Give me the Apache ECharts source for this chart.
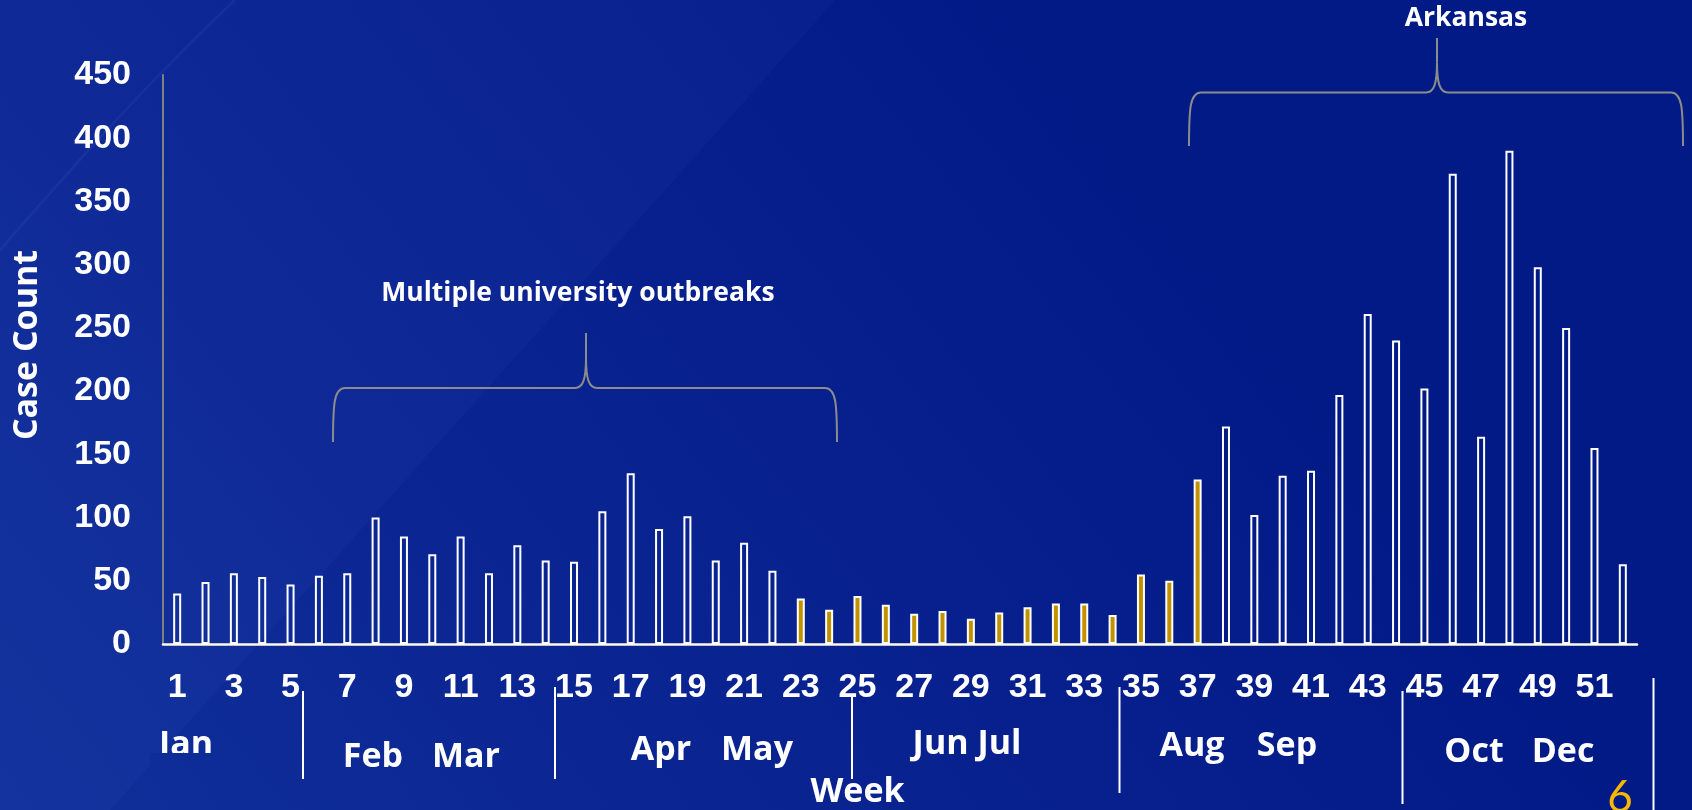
<!DOCTYPE html>
<html>
<head>
<meta charset="utf-8">
<script src="https://cdn.jsdelivr.net/npm/echarts@6/dist/echarts.min.js"></script>
<style>
html,body{margin:0;padding:0;background:#06208e;overflow:hidden;}
#chart{width:1692px;height:810px;}
</style>
</head>
<body>
<div id="chart"></div>
<script>
// ---- data ----
const weeks = [1,2,3,4,5,6,7,8,9,10,11,12,13,14,15,16,17,18,19,20,21,22,23,24,25,26,
               27,28,29,30,31,32,33,34,35,36,37,38,39,40,41,42,43,44,45,46,47,48,49,50,51,52];
const caseCounts = [40,49,56,53,47,54,56,100,85,71,85,56,78,66,65,105,135,91,101,66,80,58,
                    36,27,38,31,24,26,20,25,29,32,32,23,55,50,130,
                    172,102,133,137,197,261,240,202,372,164,390,298,250,155,63];
const goldWeeks = [23,24,25,26,27,28,29,30,31,32,33,34,35,36,37];
const monthLabels = ['Jan','Feb','Mar','Apr','May','Jun Jul','Aug','Sep','Oct','Dec'];
const annotationLabels = ['Multiple university outbreaks','Arkansas'];
const axisTitles = {x:'Week', y:'Case Count'};
const slideNumber = '6';

// ---- layout (pixels) ----
const monthPos = [[186,745],[373,757],[466,757],[661,750],[757,750],[967,744],[1192,746],[1287,746],[1474,752],[1563,752]];
const separatorLines = [[303,691,779],[555,687,779],[852,695,779],[1119.5,687,793],[1402.5,691,804],[1653.5,678,812]];
const braces = [
  {xl:333, xr:837, xm:586, yTip:442, yH:388, yTop:333},
  {xl:1189, xr:1683, xm:1437, yTip:146, yH:92.5, yTop:38}
];

const bgGradient = () => new echarts.graphic.LinearGradient(0, 810, 1000, 0, [
  {offset:0, color:'#103099'},
  {offset:0.45, color:'#0a2492'},
  {offset:1, color:'#021a86'}
], true);

const bold = "'Open Sans', 'DejaVu Sans', sans-serif";
const arialB = "'Liberation Sans', Arial, sans-serif";

const graphics = [];
// background
graphics.push({type:'rect', z:-100, shape:{x:0,y:0,width:1692,height:810}, style:{fill:bgGradient()}, silent:true});
// subtle lighter wedge and streak
graphics.push({type:'polygon', z:-99, shape:{points:[[0,0],[835,0],[110,810],[0,810]]}, style:{fill:'rgba(110,150,255,0.045)'}, silent:true});
graphics.push({type:'bezierCurve', z:-98, shape:{x1:0,y1:250,cpx1:70,cpy1:170,cpx2:140,cpy2:90,x2:235,y2:0}, style:{fill:null, stroke:'rgba(120,160,255,0.07)', lineWidth:3}, silent:true});

// braces built from curves and lines
const braceStyle = {fill:null, stroke:'#8c8c8c', lineWidth:2};
braces.forEach(b=>{
  const r = 12, m = 11;
  const stem = b.yH - 30;
  const parts = [
    {type:'bezierCurve', shape:{x1:b.xl,y1:b.yTip, cpx1:b.xl,cpy1:b.yH+16, cpx2:b.xl+1,cpy2:b.yH, x2:b.xl+r,y2:b.yH}},
    {type:'line', shape:{x1:b.xl+r,y1:b.yH, x2:b.xm-m,y2:b.yH}},
    {type:'bezierCurve', shape:{x1:b.xm-m,y1:b.yH, cpx1:b.xm-3,cpy1:b.yH, cpx2:b.xm,cpy2:b.yH-9, x2:b.xm,y2:stem}},
    {type:'line', shape:{x1:b.xm,y1:stem, x2:b.xm,y2:b.yTop}},
    {type:'bezierCurve', shape:{x1:b.xm+m,y1:b.yH, cpx1:b.xm+3,cpy1:b.yH, cpx2:b.xm,cpy2:b.yH-9, x2:b.xm,y2:stem}},
    {type:'line', shape:{x1:b.xm+m,y1:b.yH, x2:b.xr-r,y2:b.yH}},
    {type:'bezierCurve', shape:{x1:b.xr,y1:b.yTip, cpx1:b.xr,cpy1:b.yH+16, cpx2:b.xr-1,cpy2:b.yH, x2:b.xr-r,y2:b.yH}}
  ];
  parts.forEach(p=>{ p.z = 5; p.style = Object.assign({}, braceStyle); p.silent = true; graphics.push(p); });
});

const txt = (x, y, text, font, fill, extra) => Object.assign({type:'text', z:6, x:x, y:y,
  style:{text:text, fill:fill || '#ffffff', font:font, textAlign:'center', textVerticalAlign:'middle', verticalAlign:'middle'}}, extra || {});

// annotation texts
graphics.push(txt(578, 293, annotationLabels[0], `bold 26.5px ${bold}`));
graphics.push(txt(1466, 18, annotationLabels[1], `bold 26.5px ${bold}`));

// month labels
monthLabels.forEach((m,i)=>{
  graphics.push(txt(monthPos[i][0], monthPos[i][1], m, `bold 34px ${bold}`));
});
// clip bottom of "Jan" like the reference (overlay with same background)
graphics.push({type:'rect', z:7, shape:{x:150,y:753,width:75,height:25}, style:{fill:bgGradient()}, silent:true});

// separators
separatorLines.forEach(l=>{
  graphics.push({type:'line', z:6, shape:{x1:l[0],y1:l[1],x2:l[0],y2:l[2]}, style:{stroke:'#ffffff', lineWidth:2}, silent:true});
});

// axis titles
graphics.push(txt(857.5, 792.5, axisTitles.x, `bold 34px ${bold}`));
graphics.push(txt(27, 345, axisTitles.y, `bold 34px ${bold}`, null, {rotation:Math.PI/2}));
// slide number
graphics.push(txt(1620, 798, slideNumber, `44px Lato, 'Open Sans', sans-serif`, '#F6B800'));

const barData = caseCounts.map((v,i)=>({
  value: v,
  itemStyle: goldWeeks.includes(weeks[i]) ? {color:'#C19200'} : {color:'rgba(0,0,0,0)'}
}));

const chart = echarts.init(document.getElementById('chart'), null, {renderer:'canvas'});
chart.setOption({
  backgroundColor:'transparent',
  animation:false,
  grid:{left:163, right:55, top:75, bottom:166, containLabel:false},
  xAxis:{
    type:'category',
    data:weeks.map(String),
    axisLine:{show:true, lineStyle:{color:'#fffbe6', width:2.5}},
    axisTick:{show:false},
    axisLabel:{interval:1, color:'#ffffff', fontFamily:arialB, fontWeight:'bold', fontSize:34, margin:27},
    splitLine:{show:false}
  },
  yAxis:{
    type:'value', min:0, max:450, interval:50,
    axisLine:{show:true, lineStyle:{color:'#808080', width:2}},
    axisTick:{show:false},
    axisLabel:{color:'#ffffff', fontFamily:arialB, fontWeight:'bold', fontSize:34, margin:32},
    splitLine:{show:false}
  },
  series:[{
    type:'bar',
    data:barData,
    barWidth:8,
    itemStyle:{borderColor:'#ffffff', borderWidth:2},
    z:3
  }],
  graphic:graphics
});
</script>
</body>
</html>
